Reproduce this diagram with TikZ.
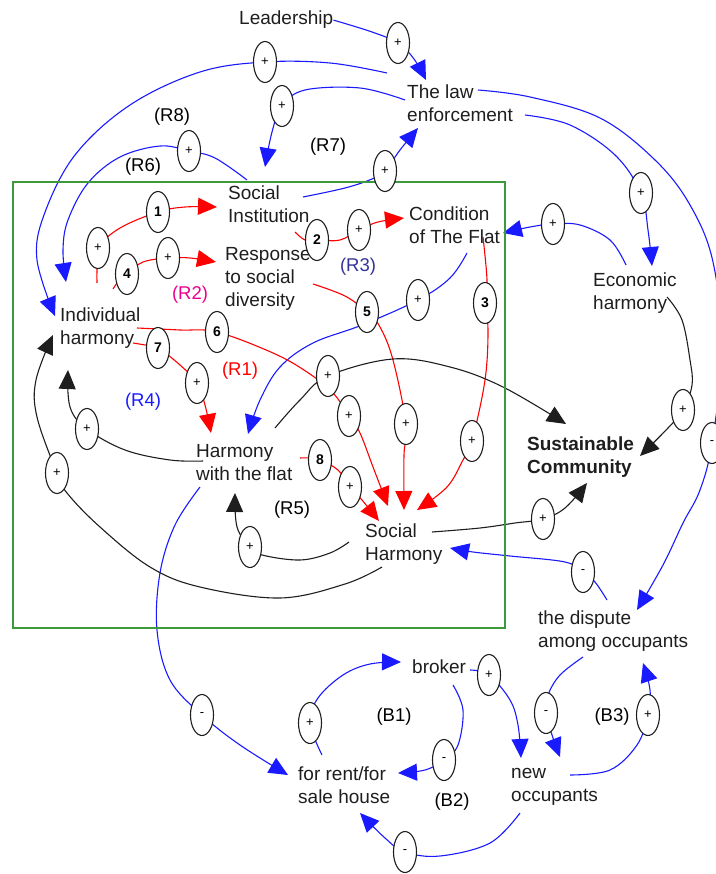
\documentclass[tikz,border=0pt]{standalone}
\usepackage{fontspec}
\setmainfont{Liberation Sans}
\usetikzlibrary{shapes.geometric,arrows.meta}
\definecolor{cgreen}{HTML}{3C9A3C}
\definecolor{cnavy}{HTML}{333399}
\definecolor{cblue}{HTML}{1A1AFF}
\definecolor{ctext}{HTML}{1E1E1E}
\pgfdeclarelayer{bg}
\pgfsetlayers{bg,main}
\begin{document}
\begin{tikzpicture}[x=1pt,y=-1pt,
  lbl/.style={anchor=base west, align=left, inner sep=0pt, text=ctext, font=\fontsize{19}{23}\selectfont},
  loop/.style={inner sep=0pt, font=\fontsize{18.5}{22}\selectfont},
  pol/.style={ellipse, draw=ctext, fill=white, line width=1.1pt, minimum width=23pt, minimum height=41pt, inner sep=0pt, font=\fontsize{13}{13}\selectfont},
  num/.style={pol, font=\bfseries\fontsize{14}{14}\selectfont},
  tip/.style={-{Triangle[length=19pt,width=17pt]}},
  bl/.style={draw=cblue, line width=1.1pt, tip},
  rd/.style={draw=red, line width=1.1pt, tip},
  bk/.style={draw=ctext, line width=1.1pt, tip},
  sm/.style={smooth, tension=0.6}]
\useasboundingbox (0,0) rectangle (715,874);
\draw[cgreen, line width=1.3pt] (13,182) rectangle (505,628);

% ---------- variables (anchor = baseline of last line) ----------
\node[lbl] (lead) at (239,25) {Leadership};
\node[lbl] (law) at (407,122) {The law\\enforcement};
\node[lbl] (si) at (228,223) {Social\\Institution};
\node[lbl] (cond) at (409,244) {Condition\\of The Flat};
\node[lbl] (resp) at (225,306) {Response\\to social\\diversity};
\node[lbl] (ih) at (60,344) {Individual\\harmony};
\node[lbl] (eh) at (593,309) {Economic\\harmony};
\node[lbl] (hf) at (196,480) {Harmony\\with the flat};
\node[lbl, font=\bfseries\fontsize{19}{23}\selectfont] (sc) at (527,473) {Sustainable\\Community};
\node[lbl] (sh) at (365,560) {Social\\Harmony};
\node[lbl] (dis) at (538,647) {the dispute\\among occupants};
\node[lbl] (brk) at (412,673) {broker};
\node[lbl] (rent) at (298,803) {for rent/for\\sale house};
\node[lbl] (new) at (511,801) {new\\occupants};

% ---------- loop labels ----------
\node[loop] (lR8) at (172,117) {(R8)};
\node[loop] (lR6) at (143,167) {(R6)};
\node[loop] (lR7) at (328,147) {(R7)};
\node[loop, text=cnavy] (lR3) at (358,267) {(R3)};
\node[loop, text=magenta] (lR2) at (190,295) {(R2)};
\node[loop, text=red] (lR1) at (240,371) {(R1)};
\node[loop, text=cblue] (lR4) at (143,402) {(R4)};
\node[loop] (lR5) at (292,510) {(R5)};
\node[loop] (lB1) at (394,717) {(B1)};
\node[loop] (lB2) at (452,802) {(B2)};
\node[loop] (lB3) at (612,717) {(B3)};

% ---------- polarity marks ----------
\node[pol] (pLead) at (398,43) {+};
\node[pol] (pR8) at (265,62) {+};
\node[pol] (pR7a) at (282,106) {+};
\node[pol] (pR6) at (189,151) {+};
\node[pol] (pR7b) at (385,171) {+};
\node[pol] (pE1) at (641,193) {+};
\node[pol] (pE2) at (553,224) {+};
\node[pol] (pR3) at (418,300) {+};
\node[pol] (pDis) at (712,443) {-};
\node[pol] (pHR) at (202,715) {-};
\node[pol] (pB1) at (310,723) {+};
\node[pol] (pB2) at (444,760) {-};
\node[pol] (pBrk) at (489,675) {+};
\node[pol] (pNew) at (405,852) {-};
\node[pol] (pB3a) at (546,713) {-};
\node[pol] (pB3b) at (648,715) {+};
\node[pol] (pSH) at (583,572) {-};

\node[pol] (r1p) at (98,248) {+};
\node[num] (r1n) at (158,212) {1};
\node[num] (r4n) at (127,274) {4};
\node[pol] (r4p) at (168,258) {+};
\node[num] (r2n) at (317,240) {2};
\node[pol] (r2p) at (359,230) {+};
\node[num] (r3n) at (485,303) {3};
\node[pol] (r3p) at (472,441) {+};
\node[num] (r5n) at (367,312) {5};
\node[pol] (r5p) at (406,424) {+};
\node[num] (r6n) at (217,332) {6};
\node[pol] (r6p) at (349,416) {+};
\node[num] (r7n) at (158,348) {7};
\node[pol] (r7p) at (197,383) {+};
\node[num] (r8n) at (320,460) {8};
\node[pol] (r8p) at (350,487) {+};

\node[pol] (kHS) at (328,376) {+};
\node[pol] (kSS) at (543,519) {+};
\node[pol] (kES) at (683,410) {+};
\node[pol] (kR4) at (87,429) {+};
\node[pol] (kOut) at (57,473) {+};
\node[pol] (kR5) at (250,547) {+};

% ---------- connector ends ----------
\coordinate (e1) at (426,80);
\coordinate (s2) at (387,73);  \coordinate (e2) at (55,316);
\coordinate (s3) at (247,180); \coordinate (e3) at (66,282);
\coordinate (s4) at (303,197); \coordinate (e4) at (418,128);
\coordinate (s5) at (405,100); \coordinate (e5) at (265,167);
\coordinate (s6) at (525,115); \coordinate (e6) at (652,266);
\coordinate (s7) at (478,90);  \coordinate (e7) at (637,610);
\coordinate (s8) at (626,265); \coordinate (e8) at (503,233);
\coordinate (s9) at (467,253); \coordinate (e9) at (248,434);
\coordinate (s10) at (200,487); \coordinate (e10) at (288,775);
\coordinate (s11) at (322,755); \coordinate (e11) at (401,662);
\coordinate (s12) at (453,685); \coordinate (e12) at (398,773);
\coordinate (s13) at (470,670); \coordinate (e13) at (521,758);
\coordinate (s14) at (520,813); \coordinate (e14) at (360,813);
\coordinate (s15) at (583,657); \coordinate (e15) at (560,757);
\coordinate (s16) at (570,775); \coordinate (e16) at (643,663);
\coordinate (s17) at (607,600); \coordinate (e17) at (450,548);

\coordinate (q1) at (97,283);  \coordinate (f1) at (217,207);
\coordinate (q2) at (113,289); \coordinate (f2) at (216,262);
\coordinate (q3) at (295,232); \coordinate (f3) at (404,218);
\coordinate (q4) at (483,237); \coordinate (f4) at (417,510);
\coordinate (q5) at (313,284); \coordinate (f5) at (404,510);
\coordinate (q6) at (137,328); \coordinate (f6) at (388,506);
\coordinate (q7) at (133,343); \coordinate (f7) at (211,433);
\coordinate (q8) at (300,458); \coordinate (f8) at (379,521);

\coordinate (k1s) at (275,428); \coordinate (k1e) at (566,424);
\coordinate (k2s) at (432,532); \coordinate (k2e) at (587,483);
\coordinate (k3s) at (667,297); \coordinate (k3e) at (640,456);
\coordinate (k4s) at (203,461); \coordinate (k4e) at (68,370);
\coordinate (k5s) at (382,567); \coordinate (k5e) at (53,335);
\coordinate (k6s) at (349,542); \coordinate (k6e) at (235,493);

\begin{pgfonlayer}{bg}
% blue links
\draw[bl] plot[sm] coordinates {(lead.east) (372,32) (pLead.center) (414,59) (e1)};
\draw[bl] plot[sm] coordinates {(s2) (330,63) (pR8.center) (200,72) (130,105) (75,155) (44,215) (37,260) (e2)};
\draw[bl] plot[sm] coordinates {(s3) (215,158) (pR6.center) (160,146) (120,157) (88,183) (68,220) (63,250) (e3)};
\draw[bl] plot[sm] coordinates {(s4) (345,188) (372,179) (pR7b.center) (400,150) (e4)};
\draw[bl] plot[sm] coordinates {(s5) (360,88) (305,90) (pR7a.center) (272,132) (e5)};
\draw[bl] plot[sm] coordinates {(s6) (570,125) (615,155) (pE1.center) (648,230) (e6)};
\draw[bl] plot[sm] coordinates {(s7) (530,97) (600,118) (655,160) (690,205) (713,262) (722,350) (pDis.center) (700,490) (683,523) (663,565) (e7)};
\draw[bl] plot[sm] coordinates {(s8) (610,240) (580,225) (pE2.center) (530,227) (e8)};
\draw[bl] plot[sm] coordinates {(s9) (450,278) (pR3.center) (362,325) (313,343) (280,367) (260,400) (e9)};
\draw[bl] plot[sm] coordinates {(s10) (175,525) (160,573) (157,630) (170,680) (pHR.center) (240,745) (e10)};
\draw[bl] plot[sm] coordinates {(s11) (pB1.center) (318,698) (343,675) (370,664) (e11)};
\draw[bl] plot[sm] coordinates {(s12) (463,710) (458,745) (pB2.center) (425,770) (e12)};
\draw[bl] plot[sm] coordinates {(s13) (pBrk.center) (510,700) (518,725) (e13)};
\draw[bl] plot[sm] coordinates {(s14) (490,843) (440,856) (pNew.center) (385,838) (e14)};
\draw[bl] plot[sm] coordinates {(s15) (560,675) (548,695) (pB3a.center) (552,735) (e15)};
\draw[bl] plot[sm] coordinates {(s16) (610,770) (637,745) (pB3b.center) (650,690) (e16)};
\draw[bl] plot[sm] coordinates {(s17) (595,582) (pSH.center) (565,562) (510,556) (473,552) (e17)};
% red links
\draw[rd] plot[sm] coordinates {(q1) (97,270) (r1p.center) (120,228) (r1n.center) (185,207) (f1)};
\draw[rd] plot[sm] coordinates {(q2) (118,282) (r4n.center) (143,262) (r4p.center) (190,258) (f2)};
\draw[rd] plot[sm] coordinates {(q3) (305,240) (r2n.center) (340,240) (r2p.center) (378,222) (f3)};
\draw[rd] plot[sm] coordinates {(q4) (487,280) (r3n.center) (488,330) (485,380) (r3p.center) (463,460) (447,487) (f4)};
\draw[rd] plot[sm] coordinates {(q5) (345,296) (r5n.center) (380,327) (393,360) (r5p.center) (404,455) (f5)};
\draw[rd] plot[sm] coordinates {(q6) (180,330) (r6n.center) (273,353) (307,372) (333,393) (r6p.center) (360,433) (373,467) (f6)};
\draw[rd] plot[sm] coordinates {(q7) (145,345) (r7n.center) (180,365) (r7p.center) (205,405) (f7)};
\draw[rd] plot[sm] coordinates {(q8) (310,458) (r8n.center) (338,470) (r8p.center) (362,500) (f8)};
% black links
\draw[bk] plot[sm] coordinates {(k1s) (300,400) (kHS.center) (393,359) (450,367) (503,387) (k1e)};
\draw[bk] plot[sm] coordinates {(k2s) (480,528) (515,523) (kSS.center) (565,508) (k2e)};
\draw[bk] plot[sm] coordinates {(k3s) (682,320) (690,360) (692,385) (kES.center) (668,428) (k3e)};
\draw[bk] plot[sm] coordinates {(k4s) (170,460) (125,450) (kR4.center) (70,407) (k4e)};
\draw[bk] plot[sm] coordinates {(k5s) (345,584) (280,598) (200,587) (150,567) (100,527) (67,493) (kOut.center) (37,417) (36,380) (k5e)};
\draw[bk] plot[sm] coordinates {(k6s) (330,553) (300,560) (262,555) (kR5.center) (237,527) (k6e)};
\end{pgfonlayer}
\end{tikzpicture}
\end{document}
